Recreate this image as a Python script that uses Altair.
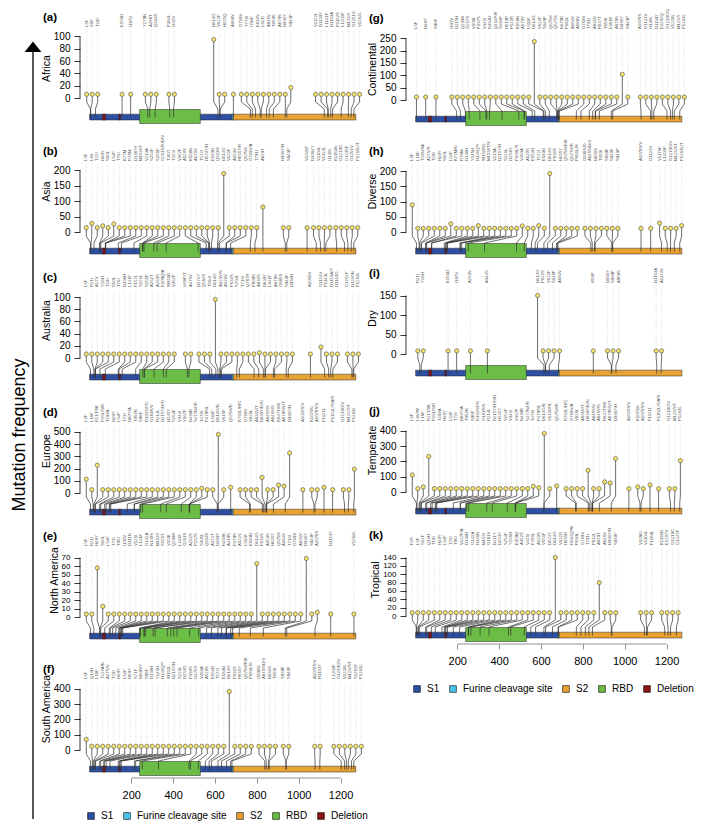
import re
import altair as alt
import pandas as pd

# ---------------- data ----------------
labels_a = ["L5F","V6F","T29I","E156D","I197V","Y279N","A288T","Q314R","P384L","I402V","D614G","V622F","H625Q",
            "A688V","G769V","T778I","I794F","E816V","L821I","A846V","T859S","A879S","D936Y","S943P","V1122L",
            "D1139Y","L1141F","D1153A","P1162S","L1203F","M1237I","G1251V","V1264L"]
values_a = [6]*10 + [95, 6, 6] + [6]*10 + [17] + [6]*9

labels_b = ["L5F","L8V","T22I","H49Y","S50L","L54F","T76I","K77M","R78M","D138Y/I","M153I/T","V213A","S254F","S255F",
            "G261S/R/D/V","T307I","T323I","V367F","A520S","K558N","A570V","T572I","D574Y/H","E583D","Q613H","D614G",
            "V622F","A653V","H655Y/R","Q675H","G769V/A","T791I","A829T","D936Y/H","S943P","V1040F","D1084Y","V1104L",
            "V1122L","I1130L","K1181N","G1219C","C1235F","G1251V","P1263L/T"]
values_b = [14, 28, 14, 20, 14, 26] + [14]*19 + [190] + [14]*6 + [81] + [14]*12

labels_c = ["L5F","R21I","A27V","Y28H","T29I","S50L","T76I","D138H","L141F","F157L","S221L","S255F","A262T","A263S",
            "E309Q/A","W353R","V367F","I468F/T","A475V","D574Y","Q584S","T604I","D614G","A623V/S","A626V","P631S",
            "S704L","T716I","Q787R","P809S","A831S","D839Y","L841F","A879S","G885S","S940F","D950H","A1056V","G1124V",
            "P1143L","D1153A/Y","D1163G","C1254F","D1260N","P1263L"]
values_c = [6.5]*22 + [96] + [6.5]*7 + [8.5] + [6.5]*7 + [18] + [6.5]*6

labels_d = ["L5F","L18F","R21T/I/K","P26L/S/R","T29I/A","H49Y","L54F","T73I","D80Y/A","T95I/N","S98F","R102S/I/G",
            "G181R/V","R214L","D215Y/H/G","H245Y","S254F","V341I","V367F","N439K","S477N/I/R","T478I","P479S/L","L611F",
            "D614G/N","V615F","Q675H/R","R765L/H/C","G769V","V826L","A831V/T","D839Y/E/N","A845S/V","A846V/S",
            "R847T/I/K","A879S/V/T","D936Y/H","A1020S/V","K1073N","A1078S/V","F1121L","P1162L/T/A/S","G1219C/V",
            "M1237I/T","P1263L"]
values_d = [113, 27, 227] + [27]*18 + [38, 27, 27] + [478, 27, 46] + [27]*4 + [127, 27, 27, 65, 57, 327] + \
           [27]*3 + [46, 27, 27, 27, 195]

labels_e = ["L5F","R21I","H49Y","S50L","L54F","T73I","T95I","I100V","D111N","V126I","L141F","G142A","N148S","M153T",
            "S155T","V159I","Q239R","L244F","G261S","A262S","P267S","S305L","Q314R","A372T","D389Y","R403K","A419S",
            "P479S","A522V","L560F","E583D","D614G","P631S","A653V","H655Y","Q675H","A684V","T716I","G769V","A831V",
            "D936Y","S943P","A1078S","D1153Y","V1264L"]
values_e = [3.5, 3.5, 58, 12.6] + [3.5]*27 + [63] + [3.5]*8 + [69, 3.5, 5.5, 3.5, 3.5]

labels_f = ["L5F","Q14H","L18F","T22I/A/N","A27S/V","T29I","H49Y","L54F","H69Y","S71F","D80N/Y","S98F","D138H","Y145H",
            "H146Q/Y","W152L","D215Y/H","S221L","D253G","P330S","G476S","V483A","A520S","E554D","T572I","E583D","D614G",
            "P631S","H655Y","Q675H/R/K","P681L/H","G838D","A845S/D/V","N856S","T859I","S939F","S940F","A1078S/V",
            "H1101Y","L1203F","G1219C/V","V1228L","M1237I/T","S1252F","P1263L"]
values_f = [69] + [24]*25 + [383] + [24]*18

labels_g = ["L5F","H49Y","S98F","I197V","D215H","Q239K","G257S","V308L","P337S","V341I","N354D","Q414P/K","S494P",
            "H519P","P521R","K558N","A570V","L611F","D614G","V622F","S640F","Q675H","Q677H","N679K","P681L","A684V",
            "A688V","G769V","T791I","A831V","R847T","T859I","L861K","A879S","D936Y","S943P","A1078S","G1124V","I1130L",
            "D1139Y","E1202Q","G1219C/V","V1228L","M1237I","P1263L"]
values_g = [12]*18 + [237] + [12]*15 + [104] + [12]*10

labels_h = ["L5F","L18F","T20N/I/A","A27V/S","T29I","H49Y","S50L","L54F","K77M/N","R78M","D138H","Y145H","H146Q/Y",
            "W152R/L","M153I/T/V","V213A","D215Y/H","S221L","D253G","P330L/S","V483A","A520S","E554D","T572I","E583D",
            "D614G","P631S","H655Y","Q675H/R/K","Q677H/R","P681L/H","G838S/D","A845S/D/V","N856S","T859I","S939F",
            "S940F","S943P","A1078S/V","G1124V","V1176F","L1203F","G1219C/V","M1237I/T","P1263L/T"]
values_h = [89] + [12]*6 + [27] + [12]*4 + [21] + [12]*7 + [20, 12, 12, 21, 12] + [192] + [12]*14 + [29] + \
           [12]*3 + [21]

labels_i = ["R21I","Y28H","E156D","I197V","A263V","A344S","D614G","P621S","V622F","S640F","A684V","I850F","D936Y",
            "S939F","A958S","D1153A","A1174V"]
values_i = [8]*6 + [150] + [8]*10

labels_j = ["L5F","L8V/W","L18F","R21T/I/K","P26L/S/R","T29I/A","H49Y","L54F","T73I","D80Y/A","T95I/N","S98F",
            "R102S/I/G","G181R/V","R214L","D215Y/H/G/N","H245Y","S254F","V341I","V367F","N439K","S477N/I/R","T478I",
            "P479S/L","D614G/N","V615I/F/L","Q675H/R","R765L/H/C","G769V/A","V826L","A831V/T","D839Y/E/N","A845S/V",
            "A846V/S","R847T/I/K","A879S/V/T","D936Y/H","A1020S/V","K1073N","A1078S/V","F1121L","P1162L/T/A/S",
            "G1219C/V","M1237I/T","P1263L"]
values_j = [111, 22, 33, 232] + [22]*18 + [37, 28] + [382, 22, 39] + [22]*4 + [142, 22, 22, 66, 59, 218] + \
           [22, 33, 22, 46, 22, 22, 22, 205]

labels_k = ["F4S","L5F","S12F","Q14H","T19I","H49Y","L54F","T76I","T95I","V127F/A","D138H","G142A","H146N","M153I",
            "G181V","N211Y","D253Y","S254F","Y265H","E309Q","A352S","V445I","F456L","A520S","V551F","D574Y","D614G",
            "V622G","H655R","R682Q/W","R683L","G769V","T791I","P812L","A829T","A846V","D936Y/H","S939Y","V1094I",
            "V1104L","F1109L","K1191N","E1207V","G1219C","C1247F"]
values_k = [8]*26 + [140] + [8]*7 + [80] + [8]*10

# protein domains (residue ranges)
dom_names = ["S1", "Furine cleavage site", "S2", "RBD", "Deletion"]
dom_colors = ["#2d4fa4", "#4dc4ec", "#e9a333", "#6cbd46", "#8c1515"]
seg_name = ["S1", "S2", "RBD", "Deletion", "Deletion", "Furine cleavage site"]
seg_start = [1, 686, 240, 63, 141, 680]
seg_end = [685, 1273, 530, 77, 148, 686]

x_ticks = [200, 400, 600, 800, 1000, 1200]

# ---------------- layout ----------------
X_DOMAIN = [-45, 1312]
W = 284
PXU = W / (X_DOMAIN[1] - X_DOMAIN[0])
GAP = 5.5 / PXU
BELOW = 25
FONT = "Liberation Sans"
NOVIEW = alt.ViewBackground(strokeWidth=0, strokeOpacity=0)


def spread(pos, lo=-15.0, hi=1300.0, d=GAP):
    order = sorted(range(len(pos)), key=lambda i: (pos[i], i))
    clusters = [[i] for i in order]

    def start(c):
        m = sum(pos[i] for i in c) / len(c)
        s = m - (len(c) - 1) * d / 2
        return max(lo, min(s, hi - (len(c) - 1) * d))

    changed = True
    while changed:
        changed = False
        for k in range(len(clusters) - 1):
            a, b = clusters[k], clusters[k + 1]
            if start(b) < start(a) + len(a) * d - 1e-6:
                clusters[k] = a + b
                del clusters[k + 1]
                changed = True
                break
    disp = [0.0] * len(pos)
    for c in clusters:
        s = start(c)
        for j, i in enumerate(c):
            disp[i] = s + j * d
    return disp


def panel(tag, name, labels, values, ticks, above, bottom_axis=False, legend_y=None,
          title_above=80, label_size=10, extra=None):
    ppu = 58.5 / max(values)
    h = above + BELOW
    pos = [int(re.search(r"\d+", s).group()) for s in labels]
    disp = spread(pos)
    df = pd.DataFrame({"label": labels, "value": values, "pos": pos, "disp": disp})
    df["ya"] = -4 / ppu
    df["yb"] = -11 / ppu
    df["yc"] = -19.5 / ppu
    df["lab"] = 71 / ppu
    df["gtop"] = 67 / ppu

    seg = pd.DataFrame({"dom": seg_name, "s": seg_start, "e": seg_end})
    tall = seg["dom"] == "RBD"
    seg["y1"] = [(-11.5 if t else -16.2) / ppu for t in tall]
    seg["y2"] = [(-25.5 if t else -22.0) / ppu for t in tall]

    xscale = alt.Scale(domain=X_DOMAIN, nice=False, zero=False)
    yscale = alt.Scale(domain=[-BELOW / ppu, above / ppu], nice=False, zero=False)
    if bottom_axis:
        xax = alt.Axis(values=x_ticks, format="d", domain=False, grid=False, tickColor="#777", tickSize=5,
                       tickWidth=0.8, labelFontSize=11, labelColor="black", labelPadding=6, offset=3,
                       title=None, labelFont=FONT)
    else:
        xax = None
    yax = alt.Axis(values=ticks, domain=False, grid=False, tickColor="black", tickSize=6, tickWidth=0.8,
                   labelFontSize=label_size, labelPadding=4, labelColor="black", labelOverlap=False,
                   title=name, titleFontSize=10.5, titleFontWeight="normal", titlePadding=2,
                   titleColor="black", labelFont=FONT, titleFont=FONT)

    def X(f):
        return alt.X(f, scale=xscale, axis=xax)

    def Y(f):
        return alt.Y(f, scale=yscale, axis=yax)

    base = alt.Chart(df)
    grid = base.mark_rule(color="#cccccc", strokeWidth=0.6, strokeDash=[1, 1.3]).encode(
        x=X("disp:Q"), y=Y("value:Q"), y2="gtop")
    if legend_y is not None:
        leg = alt.Legend(orient="none", legendX=6, legendY=legend_y, direction="horizontal", columns=5,
                         title=None, symbolType="square", symbolSize=45, symbolStrokeColor="black",
                         symbolStrokeWidth=0.6, symbolOpacity=1, labelFontSize=10, labelFont=FONT,
                         labelColor="black", columnPadding=8, labelOffset=5)
    else:
        leg = None
    bars = alt.Chart(seg).mark_rect(stroke="#222", strokeWidth=0.5).encode(
        x=X("s:Q"), x2="e", y=Y("y1:Q"), y2="y2",
        color=alt.Color("dom:N", scale=alt.Scale(domain=dom_names, range=dom_colors), legend=leg))
    conn = base.mark_rule(color="#333", strokeWidth=0.7).encode(
        x=X("disp:Q"), x2="pos", y=Y("ya:Q"), y2="yb")
    vert = base.mark_rule(color="#333", strokeWidth=0.7).encode(
        x=X("pos:Q"), y=Y("yb:Q"), y2="yc")
    stem = base.mark_rule(color="#444", strokeWidth=0.8).encode(
        x=X("disp:Q"), y=Y("value:Q"), y2="ya")
    heads = base.mark_circle(size=18, color="#f6e36c", opacity=1, stroke="#333", strokeWidth=0.5).encode(
        x=X("disp:Q"), y=Y("value:Q"))
    text = base.mark_text(angle=270, align="left", baseline="middle", fontSize=4.3, font=FONT,
                          color="#555").encode(x=X("disp:Q"), y=Y("lab:Q"), text="label:N")
    yline = alt.Chart(pd.DataFrame({"y0": [0], "y1": [ticks[-1]]})).mark_rule(
        color="black", strokeWidth=0.8).encode(x=alt.value(0), y=Y("y0:Q"), y2="y1")
    title = alt.Chart(pd.DataFrame({"t": [f"({tag})"]})).mark_text(
        align="left", baseline="middle", fontSize=11.5, fontWeight="bold", font=FONT, color="black").encode(
        x=alt.value(-37), y=alt.value(above - title_above), text="t:N")
    layers = [grid, bars, conn, vert, stem, heads, text, yline, title]
    if bottom_axis:
        axl = alt.Chart(pd.DataFrame({"a": [x_ticks[0]], "b": [x_ticks[-1]]})).mark_rule(
            color="#777", strokeWidth=0.8).encode(x=X("a:Q"), x2="b", y=alt.value(h + 3))
        layers.append(axl)
    if extra:
        layers.extend(extra)
    return alt.layer(*layers).properties(width=W, height=h, view=NOVIEW)


# big "Mutation frequency" arrow on the left (drawn from panel (a), outside its plot area)
strip_df = pd.DataFrame({"t": ["Mutation frequency"]})
sbase = alt.Chart(strip_df)
arrow_line = sbase.mark_rule(color="black", strokeWidth=1.3).encode(
    x=alt.value(-47), y=alt.value(36), y2=alt.value(806))
arrow_head = sbase.mark_point(shape="M-1,0.6L0,-0.65L1,0.6Z", filled=True, color="black", size=280,
                              opacity=1).encode(x=alt.value(-47), y=alt.value(34))
strip_text = sbase.mark_text(angle=270, fontSize=18, font=FONT, color="black").encode(
    x=alt.value(-60), y=alt.value(422), text="t:N")

cells = [
    panel("a", "Africa", labels_a, values_a, [0, 20, 40, 60, 80, 100], 85,
          extra=[arrow_line, arrow_head, strip_text]),
    panel("g", "Continental", labels_g, values_g, [0, 50, 100, 150, 200, 250], 87, title_above=81),
    panel("b", "Asia", labels_b, values_b, [0, 50, 100, 150, 200], 107),
    panel("h", "Diverse", labels_h, values_h, [0, 50, 100, 150, 200], 107),
    panel("c", "Australia", labels_c, values_c, [0, 20, 40, 60, 80, 100], 101),
    panel("i", "Dry", labels_i, values_i, [0, 50, 100, 150], 97),
    panel("d", "Europe", labels_d, values_d, [0, 100, 200, 300, 400, 500], 110),
    panel("j", "Temperate", labels_j, values_j, [0, 100, 200, 300, 400], 109),
    panel("e", "North America", labels_e, values_e, [0, 10, 20, 30, 40, 50, 60, 70], 99, label_size=8),
    panel("k", "Tropical", labels_k, values_k, [0, 20, 40, 60, 80, 100, 120, 140], 98, label_size=8,
          bottom_axis=True, legend_y=98 + BELOW + 43),
    panel("f", "South America", labels_f, values_f, [0, 100, 200, 300, 400], 108,
          bottom_axis=True, legend_y=108 + BELOW + 36),
]

chart = alt.ConcatChart(concat=cells, columns=2, spacing={"row": 0, "column": 42}, bounds="flush",
                        align="each", padding={"left": 3, "top": 0, "right": 0, "bottom": 0})
chart = chart.resolve_scale(color="independent").configure_view(strokeWidth=0, strokeOpacity=0).configure(
    font=FONT, background="white")

chart.save("out.html", embed_options={"renderer": "svg", "actions": False})
